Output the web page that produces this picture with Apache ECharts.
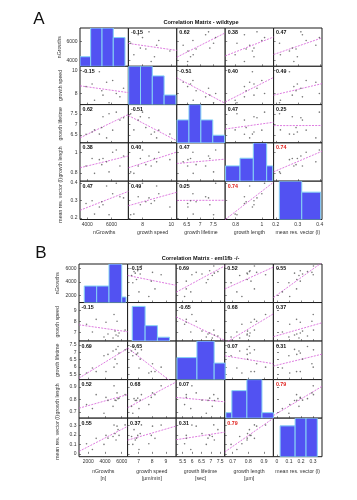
<!DOCTYPE html>
<html><head><meta charset="utf-8">
<script src="https://cdn.jsdelivr.net/npm/echarts@6/dist/echarts.min.js"></script>
<style>html,body{margin:0;padding:0;background:#fff}#c{width:357px;height:500px}</style>
</head><body><div id="c"></div>
<script>
// ---------- Panel A : wildtype (12 samples) ----------
const namesA = ['nGrowths', 'growth speed', 'growth lifetime', 'growth length', 'mean res. vector (l)'];
const nGrowthsA = [3900, 4600, 5000, 5300, 5600, 5800, 6100, 6400, 6700, 7000, 4400, 5200];
const speedA    = [8.60, 7.40, 9.90, 7.85, 8.98, 7.18, 9.13, 8.00, 7.70, 8.45, 8.83, 8.23];
const lifetimeA = [6.53, 6.74, 6.54, 7.37, 6.36, 7.51, 6.73, 7.59, 7.21, 7.32, 6.64, 6.85];
const lengthA   = [0.867, 0.796, 0.928, 0.940, 0.907, 0.810, 1.000, 1.021, 0.867, 0.963, 0.940, 0.880];
const mrvA      = [0.282, 0.221, 0.262, 0.275, 0.382, 0.217, 0.338, 0.398, 0.321, 0.314, 0.298, 0.292];
const rangesA = [[3400, 7400], [7.02, 10.38], [6.12, 7.95], [0.72, 1.09], [0.19, 0.41]];
const ticksA  = [[4000, 6000], [8, 10], [6.5, 7, 7.5], [0.8, 1], [0.2, 0.3, 0.4]];
const histEdgesA = [
  [3400, 4280, 5220, 6150, 7120],
  [7.04, 7.86, 8.68, 9.50, 10.32],
  [6.13, 6.58, 7.03, 7.48, 7.93],
  [0.723, 0.833, 0.935, 1.037, 1.083],
  [0.216, 0.318, 0.404]
];
const histCountsA = [[1, 4, 4, 3], [4, 4, 3, 1], [3, 5, 3, 1], [2, 3, 5, 2], [7, 5]];
const histMaxA = [4, 4, 5, 5, 7];
const corrA = [
  [1, -0.15, 0.62, 0.38, 0.47],
  [-0.15, 1, -0.51, 0.40, 0.49],
  [0.62, -0.51, 1, 0.47, 0.25],
  [0.38, 0.40, 0.47, 1, 0.74],
  [0.47, 0.49, 0.25, 0.74, 1]
];

// ---------- Panel B : eml1fb -/- (14 samples) ----------
const yNamesB = ['nGrowths', 'growth speed', 'growth lifetime', 'growth length', 'mean res. vector (l)'];
const xNamesB = ['nGrowths\n[n]', 'growth speed\n[µm/min]', 'growth lifetime\n[sec]', 'growth length\n[µm]', 'mean res. vector (l)'];
const nGrowthsB = [1800, 2500, 2950, 3880, 4120, 4360, 4960, 5080, 5200, 5320, 5440, 5560, 5680, 6400];
const speedB    = [7.75, 7.03, 8.20, 6.58, 7.93, 6.85, 6.49, 8.65, 7.12, 6.76, 8.02, 6.67, 6.94, 7.21];
const lifetimeB = [5.60, 5.93, 5.69, 6.76, 5.69, 6.85, 7.08, 5.99, 6.53, 7.19, 6.22, 7.38, 6.94, 7.16];
const lengthB   = [0.759, 0.727, 0.839, 0.690, 0.817, 0.793, 0.745, 0.910, 0.795, 0.792, 0.853, 0.807, 0.811, 0.839];
const mrvB      = [0.106, 0.045, 0.163, 0.099, 0.194, 0.165, 0.183, 0.302, 0.213, 0.146, 0.291, 0.254, 0.194, 0.304];
const rangesB = [[900, 6700], [6.2, 9.75], [5.15, 7.75], [0.65, 0.96], [-0.03, 0.375]];
const ticksB  = [[2000, 4000, 6000], [7, 8, 9], [5.5, 6, 6.5, 7, 7.5], [0.7, 0.8, 0.9], [0, 0.1, 0.2, 0.3]];
const histEdgesB = [
  [1530, 3010, 4480, 6000, 6510],
  [6.54, 7.48, 8.38, 9.26],
  [5.19, 6.26, 7.18, 7.77],
  [0.657, 0.695, 0.791, 0.887, 0.96],
  [0.026, 0.151, 0.242, 0.336]
];
const histCountsB = [[3, 3, 7, 1], [9, 4, 1], [4, 7, 3], [1, 5, 7, 1], [4, 5, 5]];
const histMaxB = [7, 10, 7, 7, 5];
const corrB = [
  [1, -0.15, 0.69, 0.52, 0.55],
  [-0.15, 1, -0.65, 0.68, 0.37],
  [0.69, -0.65, 1, 0.07, 0.31],
  [0.52, 0.68, 0.07, 1, 0.79],
  [0.55, 0.37, 0.31, 0.79, 1]
];
const sigPairs = [[3, 4], [4, 3]];

// ---------- layout / style ----------
const FONT = 'Liberation Sans, Arial, sans-serif';
const panels = [
  { vars: [nGrowthsA, speedA, lifetimeA, lengthA, mrvA], ranges: rangesA, ticks: ticksA,
    edges: histEdgesA, counts: histCountsA, hmax: histMaxA, corr: corrA,
    xNames: namesA, yNames: namesA, left: 80, top: 28, cw: 48.4, ch: 38.3,
    xNameGap: 10, yNameGap: 17, title: 'Correlation Matrix - wildtype', titleY: 22.7,
    letter: 'A', letterX: 39, letterY: 19 },
  { vars: [nGrowthsB, speedB, lifetimeB, lengthB, mrvB], ranges: rangesB, ticks: ticksB,
    edges: histEdgesB, counts: histCountsB, hmax: histMaxB, corr: corrB,
    xNames: xNamesB, yNames: yNamesB, left: 79, top: 264, cw: 48.6, ch: 38.54,
    xNameGap: 12, yNameGap: 19, title: 'Correlation Matrix - eml1fb -/-', titleY: 258.3,
    letter: 'B', letterX: 41, letterY: 253.5 }
];

const option = { animation: false, backgroundColor: '#fff', grid: [], xAxis: [], yAxis: [], series: [], graphic: [] };
const fmt = v => String(v);

function linFit(xs, ys) {
  const n = xs.length;
  const mx = xs.reduce((s, v) => s + v, 0) / n, my = ys.reduce((s, v) => s + v, 0) / n;
  let sxy = 0, sxx = 0;
  for (let k = 0; k < n; k++) { sxy += (xs[k] - mx) * (ys[k] - my); sxx += (xs[k] - mx) * (xs[k] - mx); }
  const b = sxy / sxx; return { b, a: my - b * mx };
}

panels.forEach(P => {
  for (let i = 0; i < 5; i++) {
    for (let j = 0; j < 5; j++) {
      const g = option.grid.length;
      const gl = P.left + j * P.cw, gt = P.top + i * P.ch;
      option.grid.push({ left: gl, top: gt, width: P.cw, height: P.ch, show: true,
        borderColor: '#1a1a1a', borderWidth: 1, backgroundColor: '#fff', containLabel: false });
      const xi = option.xAxis.length;
      option.xAxis.push({ gridIndex: g, type: 'value', position: 'bottom', min: P.ranges[j][0], max: P.ranges[j][1],
        axisLine: { show: false }, splitLine: { show: false },
        axisTick: { show: true, inside: true, length: 2, lineStyle: { color: '#333', width: 0.6 }, customValues: P.ticks[j] },
        axisLabel: { show: i === 4, customValues: P.ticks[j], formatter: fmt, fontSize: 5, margin: 2.5, color: '#333', fontFamily: FONT, hideOverlap: false },
        name: i === 4 ? P.xNames[j] : '', nameLocation: 'middle', nameGap: P.xNameGap,
        nameTextStyle: { fontSize: 5.2, color: '#333', fontFamily: FONT, lineHeight: 6.3, verticalAlign: 'top' } });
      const yLabelAxis = {
        gridIndex: g, type: 'value', position: 'left', offset: 0, min: P.ranges[i][0], max: P.ranges[i][1],
        axisLine: { show: false }, splitLine: { show: false },
        axisTick: { show: true, inside: true, length: 2, lineStyle: { color: '#333', width: 0.6 }, customValues: P.ticks[i] },
        axisLabel: { show: j === 0, customValues: P.ticks[i], formatter: fmt, fontSize: 5, margin: 2.5, color: '#333', fontFamily: FONT, hideOverlap: false },
        name: j === 0 ? P.yNames[i] : '', nameLocation: 'middle', nameGap: P.yNameGap, nameRotate: 90,
        nameTextStyle: { fontSize: 5.2, color: '#333', fontFamily: FONT } };
      if (i === j) {
        const ci = option.yAxis.length;
        option.yAxis.push({ gridIndex: g, type: 'value', position: 'right', min: 0, max: P.hmax[i], show: false });
        if (j === 0) option.yAxis.push(yLabelAxis);
        const edges = P.edges[i];
        option.series.push({
          type: 'custom', xAxisIndex: xi, yAxisIndex: ci, clip: true,
          data: P.counts[i].map((c, k) => [edges[k], edges[k + 1], c]),
          encode: { x: [0, 1], y: 2 },
          renderItem: (params, api) => {
            const p0 = api.coord([api.value(0), api.value(2)]);
            const p1 = api.coord([api.value(1), 0]);
            return { type: 'rect', shape: { x: p0[0], y: p0[1], width: p1[0] - p0[0], height: p1[1] - p0[1] },
              style: { fill: '#5252f2', stroke: '#86d2f4', lineWidth: 1 } };
          }
        });
      } else {
        const yi = option.yAxis.length;
        option.yAxis.push(yLabelAxis);
        const xs = P.vars[j], ys = P.vars[i];
        option.series.push({ type: 'scatter', xAxisIndex: xi, yAxisIndex: yi, symbolSize: 1.6,
          itemStyle: { color: '#555' }, data: xs.map((x, k) => [x, ys[k]]), z: 3 });
        const f = linFit(xs, ys);
        const x0 = P.ranges[j][0], x1 = P.ranges[j][1];
        option.series.push({ type: 'line', xAxisIndex: xi, yAxisIndex: yi, showSymbol: false, clip: true,
          data: [[x0, f.a + f.b * x0], [x1, f.a + f.b * x1]],
          lineStyle: { color: '#d65ad8', width: 0.8, type: [2, 1.2] }, z: 2 });
        const r = P.corr[i][j];
        const sig = sigPairs.some(p => p[0] === i && p[1] === j);
        option.graphic.push({ type: 'text', left: gl + 2.5, top: gt + 2.5, z: 100,
          style: { text: r.toFixed(2), fontSize: 5.3, fontWeight: 'bold', fontFamily: FONT,
            fill: sig ? '#e0201c' : '#111' } });
      }
    }
  }
  option.graphic.push({ type: 'text', x: P.left + 2.5 * P.cw, y: P.titleY, z: 100,
    style: { text: P.title, fontSize: 5.6, fontWeight: 'bold', fontFamily: FONT, fill: '#111',
      textAlign: 'center', textVerticalAlign: 'middle' } });
  option.graphic.push({ type: 'text', x: P.letterX, y: P.letterY, z: 100,
    style: { text: P.letter, fontSize: 17, fontFamily: FONT, fill: '#111',
      textAlign: 'center', textVerticalAlign: 'middle' } });
});

const chart = echarts.init(document.getElementById('c'), null, { renderer: 'canvas' });
chart.setOption(option);
</script>
</body></html>
